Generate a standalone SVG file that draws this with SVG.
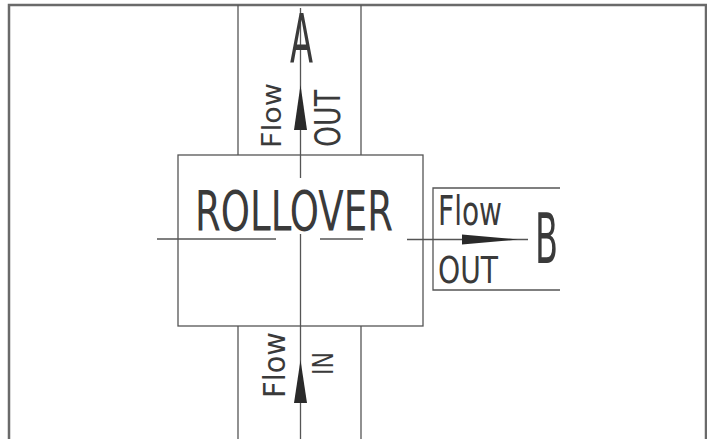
<svg xmlns="http://www.w3.org/2000/svg" width="707" height="439" viewBox="0 0 707 439">
<style>
.ln{stroke:#555;stroke-width:1.3;fill:none}
.bd{stroke:#6a6a6a;stroke-width:2.5;fill:none}
.t{font-family:"DejaVu Sans Condensed","Liberation Sans Narrow","Liberation Sans",sans-serif;fill:#3a3a3a;font-weight:normal}
.ah{fill:#2a2a2a;stroke:none}
</style>
<rect width="707" height="439" fill="#fff"/>
<g id="frame">
<path class="bd" d="M9,439 V5 H706 V439"/>
</g>
<g id="connectors">
<line class="ln" x1="238" y1="5" x2="238" y2="155"/>
<line class="ln" x1="361" y1="5" x2="361" y2="155"/>
<line class="ln" x1="238" y1="326" x2="238" y2="439"/>
<line class="ln" x1="361" y1="326" x2="361" y2="439"/>
<line class="ln" x1="300.5" y1="8" x2="300.5" y2="178"/>
<line class="ln" x1="300.5" y1="234" x2="300.5" y2="439"/>
<line class="ln" x1="157" y1="239" x2="276" y2="239"/>
<line class="ln" x1="320" y1="239" x2="363" y2="239"/>
<line class="ln" x1="407" y1="239.5" x2="528" y2="239.5"/>
<polygon class="ah" points="300.5,85 294,130 307,130"/>
<polygon class="ah" points="300.5,360 294,403 307,403"/>
<polygon class="ah" points="518,239.5 462,234.5 462,244.5"/>
</g>
<g id="rollover">
<rect class="ln" x="178" y="155" width="245" height="171"/>
<text class="t" x="195" y="230" font-size="55" textLength="198" lengthAdjust="spacingAndGlyphs">ROLLOVER</text>
</g>
<g id="outlet-a">
<text class="t" x="290" y="63" font-size="68" textLength="23" lengthAdjust="spacingAndGlyphs">A</text>
<text class="t" transform="translate(281,148) rotate(-90)" font-size="27" textLength="65" lengthAdjust="spacingAndGlyphs">Flow</text>
<text class="t" transform="translate(340,147) rotate(-90)" font-size="35" textLength="57" lengthAdjust="spacingAndGlyphs">OUT</text>
</g>
<g id="outlet-b">
<path class="ln" d="M560,188 H433 V290 H560"/>
<text class="t" x="438" y="225" font-size="41" textLength="64" lengthAdjust="spacingAndGlyphs">Flow</text>
<text class="t" x="438" y="283" font-size="38" textLength="60" lengthAdjust="spacingAndGlyphs">OUT</text>
<text class="t" x="535" y="263" font-size="70" textLength="23" lengthAdjust="spacingAndGlyphs">B</text>
</g>
<g id="inlet">
<text class="t" transform="translate(285,398) rotate(-90)" font-size="31" textLength="66" lengthAdjust="spacingAndGlyphs">Flow</text>
<text class="t" transform="translate(333,375) rotate(-90)" font-size="29" textLength="23" lengthAdjust="spacingAndGlyphs">IN</text>
</g>
</svg>
